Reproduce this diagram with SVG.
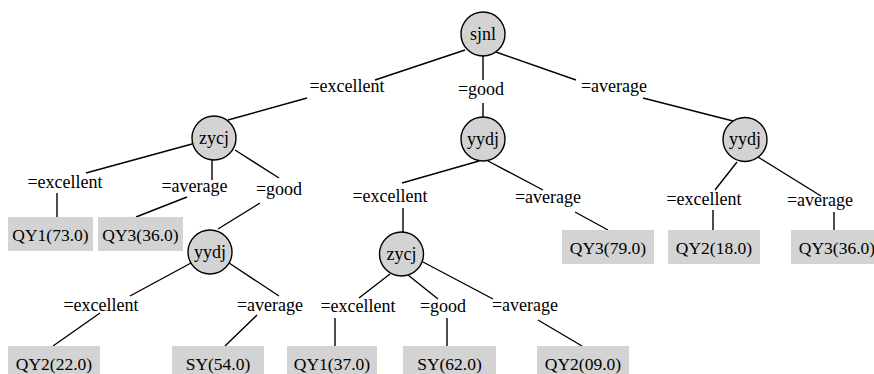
<svg xmlns="http://www.w3.org/2000/svg" width="874" height="374" viewBox="0 0 874 374">
<style>
.t{font-family:"Liberation Serif","Times New Roman",serif;font-size:18px;text-anchor:middle;fill:#000}
.leaf text{font-size:17.5px}
.n circle{fill:#d3d3d3;stroke:#000;stroke-width:1.4}
.leaf rect{fill:#d3d3d3}
#edges line{stroke:#000;stroke-width:1.4}
</style>
<rect x="0" y="0" width="874" height="374" fill="#fff"/>
<g id="edges">
<line x1="465" y1="50" x2="375" y2="80"/>
<line x1="307" y1="98" x2="228" y2="120"/>
<line x1="483" y1="56" x2="483" y2="80"/>
<line x1="483" y1="103" x2="483" y2="117"/>
<line x1="496" y1="52" x2="576" y2="80"/>
<line x1="643" y1="98" x2="733" y2="121"/>
<line x1="192" y1="144" x2="86" y2="173"/>
<line x1="57" y1="193" x2="57" y2="217"/>
<line x1="212" y1="160" x2="212" y2="180"/>
<line x1="187" y1="197" x2="136" y2="217"/>
<line x1="235" y1="150" x2="279" y2="178"/>
<line x1="260" y1="203" x2="218" y2="229"/>
<line x1="479" y1="161" x2="402" y2="183"/>
<line x1="403" y1="208" x2="403" y2="232"/>
<line x1="488" y1="161" x2="543" y2="190"/>
<line x1="575" y1="212" x2="608" y2="230"/>
<line x1="737" y1="162" x2="715" y2="190"/>
<line x1="713" y1="210" x2="713" y2="230"/>
<line x1="758" y1="157" x2="821" y2="196"/>
<line x1="834" y1="212" x2="834" y2="230"/>
<line x1="191" y1="263" x2="130" y2="296"/>
<line x1="100" y1="313" x2="53" y2="346"/>
<line x1="229" y1="263" x2="279" y2="296"/>
<line x1="257" y1="315" x2="225" y2="346"/>
<line x1="390" y1="274" x2="359" y2="298"/>
<line x1="335" y1="318" x2="335" y2="346"/>
<line x1="408" y1="275" x2="438" y2="299"/>
<line x1="447" y1="318" x2="447" y2="346"/>
<line x1="423" y1="262" x2="493" y2="299"/>
<line x1="538" y1="320" x2="582" y2="346"/>
<text class="t" x="347" y="92">=excellent</text>
<text class="t" x="481" y="95">=good</text>
<text class="t" x="614" y="92">=average</text>
<text class="t" x="65" y="188">=excellent</text>
<text class="t" x="194.5" y="192">=average</text>
<text class="t" x="279" y="195">=good</text>
<text class="t" x="390" y="202">=excellent</text>
<text class="t" x="548" y="203">=average</text>
<text class="t" x="704" y="205">=excellent</text>
<text class="t" x="820" y="206">=average</text>
<text class="t" x="101" y="311">=excellent</text>
<text class="t" x="270" y="311">=average</text>
<text class="t" x="358" y="312">=excellent</text>
<text class="t" x="443" y="312">=good</text>
<text class="t" x="525" y="311">=average</text>
</g>
<g id="n_sjnl" class="n"><circle cx="483" cy="34" r="22"/><text class="t" x="483" y="39.5">sjnl</text></g>
<g id="n_zycj1" class="n"><circle cx="214" cy="138" r="22"/><text class="t" x="214" y="143.5">zycj</text></g>
<g id="n_yydj1" class="n"><circle cx="483" cy="139" r="22"/><text class="t" x="483" y="144.5">yydj</text></g>
<g id="n_yydj2" class="n"><circle cx="745" cy="139.5" r="22"/><text class="t" x="745" y="145">yydj</text></g>
<g id="n_yydj3" class="n"><circle cx="210" cy="252" r="22"/><text class="t" x="210" y="257.5">yydj</text></g>
<g id="n_zycj2" class="n"><circle cx="401.5" cy="254" r="22"/><text class="t" x="401.5" y="259.5">zycj</text></g>
<g id="l1" class="leaf"><rect x="8" y="217" width="85" height="34"/><text class="t" x="50.5" y="240.5">QY1(73.0)</text></g>
<g id="l2" class="leaf"><rect x="98" y="217" width="85" height="34"/><text class="t" x="140.5" y="240.5">QY3(36.0)</text></g>
<g id="l3" class="leaf"><rect x="562" y="230" width="92" height="34"/><text class="t" x="608" y="253.5">QY3(79.0)</text></g>
<g id="l4" class="leaf"><rect x="668" y="230" width="92" height="34"/><text class="t" x="714" y="253.5">QY2(18.0)</text></g>
<g id="l5" class="leaf"><rect x="791" y="230" width="92" height="34"/><text class="t" x="837" y="253.5">QY3(36.0)</text></g>
<g id="l6" class="leaf"><rect x="8" y="346" width="92" height="34"/><text class="t" x="54" y="369.5">QY2(22.0)</text></g>
<g id="l7" class="leaf"><rect x="172" y="346" width="92" height="34"/><text class="t" x="218" y="369.5">SY(54.0)</text></g>
<g id="l8" class="leaf"><rect x="287" y="346" width="90" height="34"/><text class="t" x="332" y="369.5">QY1(37.0)</text></g>
<g id="l9" class="leaf"><rect x="403" y="346" width="93" height="34"/><text class="t" x="449.5" y="369.5">SY(62.0)</text></g>
<g id="l10" class="leaf"><rect x="537" y="346" width="92" height="34"/><text class="t" x="583" y="369.5">QY2(09.0)</text></g>
</svg>
